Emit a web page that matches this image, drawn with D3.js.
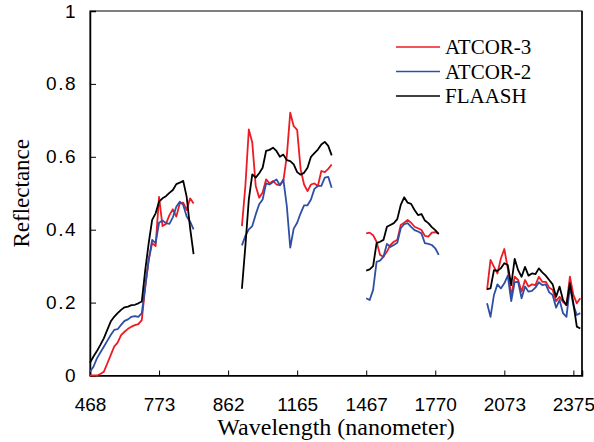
<!DOCTYPE html>
<html>
<head>
<meta charset="utf-8">
<script src="https://cdn.jsdelivr.net/npm/d3@7"></script>
<style>
  body { margin: 0; background: #fff; }
  .tick-label { font-family: "Liberation Sans", Arial, sans-serif; font-size: 19px; fill: #000; }
  .title { font-family: "Liberation Serif", "Times New Roman", serif; fill: #000; }
</style>
</head>
<body>
<svg id="chart" width="594" height="442"></svg>
<script>
// band index where each measured segment starts (gaps = absorption bands)
const segStart = [0, 44, 80, 115];

const atcor3 = [
  [0,0,0,0.004,0.01,0.033,0.056,0.079,0.09,0.111,0.12,0.128,0.134,0.138,0.141,0.152,0.244,0.317,0.363,0.355,0.49,0.41,0.416,0.44,0.456,0.436,0.472,0.474,0.454,0.486,0.472],
  [0.41,0.52,0.675,0.639,0.52,0.488,0.502,0.538,0.527,0.534,0.524,0.522,0.534,0.602,0.721,0.684,0.674,0.566,0.524,0.506,0.524,0.527,0.52,0.561,0.558,0.567,0.579],
  [0.39,0.392,0.385,0.367,0.331,0.326,0.34,0.358,0.367,0.372,0.413,0.419,0.427,0.419,0.408,0.404,0.399,0.383,0.381,0.392,0.393,0.39],
  [0.235,0.317,0.298,0.28,0.321,0.347,0.294,0.216,0.271,0.262,0.23,0.262,0.244,0.25,0.248,0.271,0.257,0.257,0.241,0.235,0.204,0.216,0.202,0.193,0.271,0.221,0.198,0.212]
];

const atcor2 = [
  [0.01,0.024,0.047,0.063,0.079,0.095,0.111,0.125,0.127,0.139,0.15,0.154,0.161,0.163,0.161,0.171,0.244,0.317,0.372,0.363,0.419,0.425,0.418,0.416,0.434,0.463,0.477,0.468,0.436,0.422,0.401],
  [0.357,0.383,0.401,0.41,0.442,0.47,0.483,0.527,0.524,0.531,0.538,0.522,0.538,0.465,0.351,0.403,0.419,0.445,0.467,0.467,0.483,0.512,0.52,0.52,0.543,0.545,0.515],
  [0.212,0.207,0.235,0.312,0.315,0.326,0.361,0.353,0.358,0.364,0.404,0.415,0.418,0.408,0.399,0.395,0.39,0.363,0.361,0.358,0.349,0.331],
  [0.198,0.161,0.221,0.25,0.239,0.253,0.274,0.204,0.256,0.257,0.212,0.244,0.23,0.232,0.241,0.256,0.248,0.25,0.228,0.221,0.186,0.207,0.171,0.161,0.244,0.193,0.166,0.171]
];

const flaash = [
  [0.035,0.052,0.067,0.084,0.102,0.125,0.148,0.161,0.171,0.18,0.187,0.189,0.193,0.194,0.198,0.203,0.289,0.363,0.427,0.445,0.477,0.486,0.492,0.501,0.509,0.525,0.529,0.534,0.49,0.404,0.333],
  [0.238,0.355,0.483,0.552,0.543,0.555,0.57,0.616,0.619,0.625,0.616,0.6,0.606,0.591,0.588,0.579,0.558,0.551,0.556,0.57,0.6,0.61,0.62,0.634,0.641,0.63,0.604],
  [0.288,0.291,0.3,0.363,0.367,0.372,0.408,0.413,0.418,0.429,0.468,0.489,0.474,0.471,0.454,0.44,0.443,0.425,0.418,0.407,0.399,0.388],
  [0.237,0.239,0.289,0.287,0.294,0.308,0.303,0.248,0.32,0.289,0.271,0.298,0.274,0.28,0.278,0.294,0.283,0.274,0.262,0.25,0.216,0.244,0.207,0.193,0.253,0.198,0.134,0.129]
];

const xTickBands = [0, 20, 40, 60, 80, 100, 120, 140];
const xTickLabels = ["468", "773", "862", "1165", "1467", "1770", "2073", "2375"];
const yTicks = [0, 0.2, 0.4, 0.6, 0.8, 1];
const yTickLabels = ["0", "0.2", "0.4", "0.6", "0.8", "1"];

const series = [
  { name: "ATCOR-3", color: "#ec1c24", values: atcor3 },
  { name: "ATCOR-2", color: "#2f4fa6", values: atcor2 },
  { name: "FLAASH", color: "#000000", values: flaash }
];

const svg = d3.select("#chart");
const plot = { left: 90, right: 582, top: 11, bottom: 375.5 };

const x = d3.scaleLinear().domain([0, 142.5]).range([plot.left, plot.right]);
const y = d3.scaleLinear().domain([0, 1]).range([plot.bottom, plot.top]);

// frame
svg.append("rect")
  .attr("x", plot.left).attr("y", plot.top)
  .attr("width", plot.right - plot.left).attr("height", plot.bottom - plot.top)
  .attr("fill", "none").attr("stroke", "#000").attr("stroke-width", 1);
svg.append("line")
  .attr("x1", plot.right).attr("x2", plot.right).attr("y1", plot.top).attr("y2", plot.bottom)
  .attr("stroke", "#222").attr("stroke-width", 2);

// x axis
const xAxis = d3.axisBottom(x)
  .tickValues(xTickBands)
  .tickSize(-5)
  .tickFormat((d, i) => xTickLabels[i]);

const gx = svg.append("g")
  .attr("transform", `translate(0,${plot.bottom})`)
  .call(xAxis)
  .attr("font-size", null).attr("font-family", null);
gx.select(".domain").attr("stroke", "#000").attr("stroke-width", 1.5);
gx.selectAll(".tick line").attr("stroke", "#000");
gx.selectAll(".tick text")
  .attr("class", "tick-label")
  .attr("y", 22)
  .attr("dy", "0.71em");

// y axis
const yAxis = d3.axisLeft(y)
  .tickValues(yTicks)
  .tickSize(-6)
  .tickFormat((d, i) => yTickLabels[i]);

const gy = svg.append("g")
  .attr("transform", `translate(${plot.left},0)`)
  .call(yAxis)
  .attr("font-size", null).attr("font-family", null);
gy.select(".domain").attr("stroke", "#000").attr("stroke-width", 1.5);
gy.selectAll(".tick line").attr("stroke", "#000");
gy.selectAll(".tick text")
  .attr("class", "tick-label")
  .attr("x", -13)
  .style("letter-spacing", "1.5px");

// lines
const line = d3.line()
  .x(d => x(d.band))
  .y(d => y(d.value));

series.forEach(s => {
  s.values.forEach((seg, k) => {
    const pts = seg.map((v, j) => ({ band: segStart[k] + j, value: v }));
    svg.append("path")
      .datum(pts)
      .attr("fill", "none")
      .attr("stroke", s.color)
      .attr("stroke-width", 1.8)
      .attr("stroke-linejoin", "round")
      .attr("d", line);
  });
});

// axis titles
svg.append("text")
  .attr("class", "title")
  .attr("x", (plot.left + plot.right) / 2)
  .attr("y", 435)
  .attr("text-anchor", "middle")
  .style("font-size", "24px")
  .text("Wavelength (nanometer)");

svg.append("text")
  .attr("class", "title")
  .attr("transform", `translate(29,${(plot.top + plot.bottom) / 2}) rotate(-90)`)
  .attr("text-anchor", "middle")
  .style("font-size", "23px")
  .text("Reflectance");

// legend
const legend = svg.append("g").attr("transform", "translate(396,47)");
legend.selectAll("line")
  .data(series)
  .enter()
  .append("line")
  .attr("x1", 0).attr("x2", 44)
  .attr("y1", (d, i) => i * 24.5).attr("y2", (d, i) => i * 24.5)
  .attr("stroke", d => d.color)
  .attr("stroke-width", 1.6);
legend.selectAll("text")
  .data(series)
  .enter()
  .append("text")
  .attr("class", "title")
  .attr("x", 49)
  .attr("y", (d, i) => i * 24.5 + 7)
  .style("font-size", "21px")
  .text(d => d.name);
</script>
</body>
</html>
